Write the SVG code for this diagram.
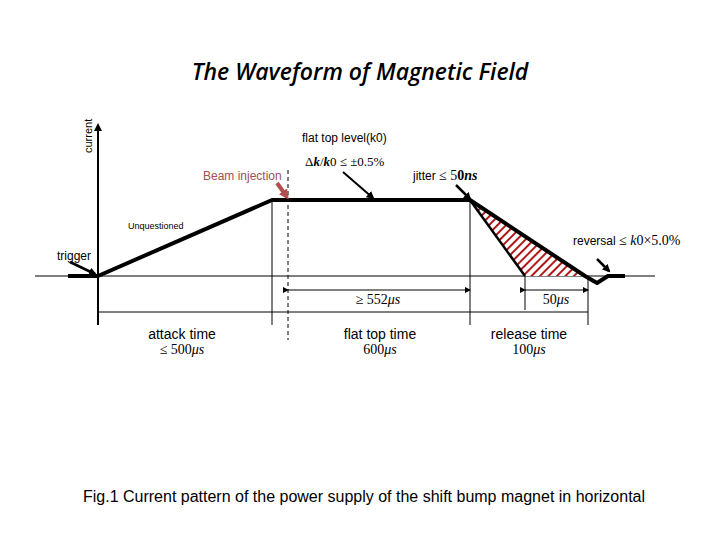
<svg xmlns="http://www.w3.org/2000/svg" width="720" height="540" viewBox="0 0 720 540">
<style>
.s{font-family:"Liberation Sans",Arial,sans-serif;fill:#000}
.m{font-family:"Liberation Serif","Times New Roman",serif;fill:#000}
.thin{stroke:#000;stroke-width:1;fill:none}
.thick{stroke:#000;stroke-width:4;fill:none;stroke-linejoin:round}
</style>
<defs>
<marker id="ah" markerWidth="6" markerHeight="6" refX="5" refY="3" orient="auto" markerUnits="userSpaceOnUse"><path d="M0,0L6,3L0,6z" fill="#000"/></marker>
<marker id="bh" markerWidth="8" markerHeight="8" refX="6" refY="4" orient="auto" markerUnits="userSpaceOnUse"><path d="M0,0L8,4L0,8z" fill="#000"/></marker>
<marker id="rh" markerWidth="10" markerHeight="10" refX="7" refY="5" orient="auto" markerUnits="userSpaceOnUse"><path d="M0,0L10,5L0,10z" fill="#b05050"/></marker>
<pattern id="hatch" width="6" height="6" patternUnits="userSpaceOnUse" patternTransform="rotate(45)"><rect width="6" height="6" fill="#fff"/><rect width="2" height="6" fill="#b01818"/></pattern>
</defs>
<text x="360" y="80" text-anchor="middle" font-family="'Open Sans',sans-serif" font-style="italic" font-weight="600" font-size="23">The Waveform of Magnetic Field</text>
<text class="s" font-size="11" transform="translate(92,153) rotate(-90)">current</text>
<g id="axes">
<line class="thin" x1="35" y1="276" x2="655" y2="276"/>
<line x1="98" y1="325" x2="98" y2="125" stroke="#000" stroke-width="2" marker-end="url(#bh)"/>
<line class="thin" x1="272" y1="200" x2="272" y2="325"/>
<line class="thin" x1="470" y1="200" x2="470" y2="325"/>
<line class="thin" x1="525" y1="276" x2="525" y2="310"/>
<line class="thin" x1="588" y1="276" x2="588" y2="325"/>
<line x1="288" y1="170" x2="288" y2="340" stroke="#000" stroke-dasharray="4,3"/>
</g>
<g id="waveform">
<polygon points="470,200 525,276 584,276" fill="url(#hatch)"/>
<line x1="470" y1="200" x2="525" y2="276" stroke="#000" stroke-width="2.5"/>
<polyline class="thick" points="68,276 98,276 272,200 470,200 585,276 597,283 608,276 625,276"/>
</g>
<g id="connectors">
<line class="thin" x1="98" y1="312" x2="588" y2="312"/>
<line class="thin" x1="288" y1="290" x2="470" y2="290" marker-start="url(#ah)" marker-end="url(#ah)"/>
<line class="thin" x1="525" y1="290" x2="588" y2="290" marker-start="url(#ah)" marker-end="url(#ah)"/>
<line x1="70" y1="262" x2="95" y2="274" stroke="#000" stroke-width="2.5" marker-end="url(#bh)"/>
<line x1="277" y1="183" x2="287" y2="197" stroke="#b05050" stroke-width="4" marker-end="url(#rh)"/>
<line x1="343" y1="172" x2="373" y2="198" stroke="#000" stroke-width="2" marker-end="url(#bh)"/>
<line x1="456" y1="185" x2="470" y2="199" stroke="#000" stroke-width="2.5" marker-end="url(#bh)"/>
<line x1="597" y1="259" x2="609" y2="271" stroke="#000" stroke-width="2.5" marker-end="url(#bh)"/>
</g>
<g id="labels">
<text class="s" x="302" y="142" font-size="12">flat top level(k0)</text>
<text class="m" x="305" y="166" font-size="13">Δ<tspan font-style="italic" font-weight="bold">k</tspan>/<tspan font-style="italic" font-weight="bold">k</tspan>0 ≤ ±0.5%</text>
<text class="s" x="203" y="180" font-size="12" style="fill:#a05050">Beam injection</text>
<text class="s" x="413" y="180" font-size="12">jitter <tspan class="m" font-size="14">≤ 5</tspan><tspan class="m" font-size="14" font-weight="bold">0</tspan><tspan class="m" font-size="14" font-style="italic" font-weight="bold">ns</tspan></text>
<text class="s" x="128" y="229" font-size="9">Unquestioned</text>
<text class="s" x="573" y="245" font-size="12">reversal <tspan class="m" font-size="14">≤ <tspan font-style="italic">k</tspan>0×5.0%</tspan></text>
<text class="s" x="57" y="260" font-size="12">trigger</text>
<text class="m" x="378" y="304" font-size="14" text-anchor="middle">≥ 552<tspan font-style="italic">μs</tspan></text>
<text class="m" x="556" y="304" font-size="14" text-anchor="middle">50<tspan font-style="italic">μs</tspan></text>
<text class="s" x="182" y="339" font-size="14" text-anchor="middle">attack time</text>
<text class="m" x="182" y="354" font-size="14" text-anchor="middle">≤ 500<tspan font-style="italic">μs</tspan></text>
<text class="s" x="380" y="339" font-size="14" text-anchor="middle">flat top time</text>
<text class="m" x="380" y="354" font-size="14" text-anchor="middle">600<tspan font-style="italic">μs</tspan></text>
<text class="s" x="529" y="339" font-size="14" text-anchor="middle">release time</text>
<text class="m" x="529" y="354" font-size="14" text-anchor="middle">100<tspan font-style="italic">μs</tspan></text>
<text class="s" x="364" y="502" font-size="16" text-anchor="middle">Fig.1 Current pattern of the power supply of the shift bump magnet in horizontal</text>
</g>
</svg>
